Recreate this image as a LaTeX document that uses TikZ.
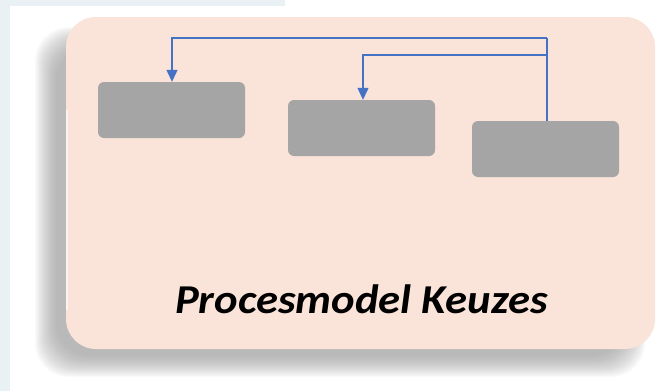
\documentclass[tikz,border=0pt]{standalone}
\usepackage{fontspec}
\setmainfont{Carlito}
\usetikzlibrary{arrows.meta}
\definecolor{bgblue}{HTML}{EAF1F5}
\definecolor{peach}{HTML}{FAE3D8}
\definecolor{boxgray}{HTML}{A5A5A5}
\definecolor{linkblue}{HTML}{4472C4}
\tikzset{
  graybox/.style={draw=none, fill=boxgray, rounded corners=6pt, minimum width=147pt, minimum height=56pt, inner sep=0pt},
  link/.style={draw=linkblue, line width=1.2pt},
  linkarrow/.style={link, -{Triangle[width=11pt,length=12pt]}},
  title/.style={font=\bfseries\itshape\fontsize{41}{44}\selectfont, anchor=base, inner sep=0pt, xscale=1.09}
}
\begin{document}
\begin{tikzpicture}[x=1pt,y=-1pt]
\useasboundingbox (0,0) rectangle (656,391);
\fill[white] (0,0) rectangle (656,391);
\fill[bgblue] (0,0) rectangle (285,6);
\fill[bgblue] (0,0) rectangle (10,391);
% shadow
\foreach \i in {0,...,21} {
  \fill[black!40, opacity=0.045, rounded corners=34pt]
    (56-\i,48-\i) rectangle (624+\i,356+\i);
}
% panel
\fill[peach, rounded corners=30pt] (66,17) rectangle (655,349);
\draw[white, line width=1.2pt, opacity=0.6] (67,110) -- (67,310);
% boxes
\node[graybox] (b1) at (171.5,110) {};
\node[graybox] (b2) at (361.5,128) {};
\node[graybox] (b3) at (545.5,149) {};
\coordinate (t1) at (547,38);
\coordinate (t2) at (547,55);
\draw[link] (b3.north -| t1) -- (t1);
\draw[linkarrow] (t1) -- (172,38) -- (b1.north -| 172,38);
\draw[linkarrow] (t2) -- (363,55) -- (b2.north -| 363,55);
\node[title] (ttl) at (361.5,313) {Procesmodel Keuzes};
\end{tikzpicture}
\end{document}
